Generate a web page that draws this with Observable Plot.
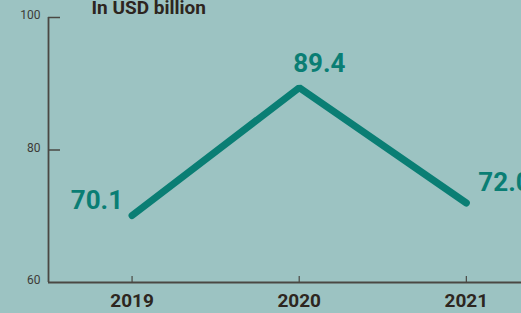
<!DOCTYPE html>
<html>
<head>
<meta charset="utf-8">
<script src="https://cdn.jsdelivr.net/npm/d3@7"></script>
<script src="https://cdn.jsdelivr.net/npm/@observablehq/plot@0.6"></script>
<style>
  html, body { margin: 0; padding: 0; background: #9cc3c2; overflow: hidden; }
  #chart { width: 521px; height: 313px; }
</style>
</head>
<body>
<div id="chart"></div>
<script>
const years = [2019, 2020, 2021];
const values = [70.1, 89.4, 72.0];
const labels = ["70.1", "89.4", "72.0"];
const yTicks = [60, 80, 100];
const xDomain = [2018.5, 2021.33];
const yDomain = [60, 100];
const title = "In USD billion";

const data = years.map((y, i) => ({year: y, value: values[i], label: labels[i]}));

const W = 521, H = 313, mT = 17, mB = 31, mL = 48, mR = 0;
const axisColor = "#4a4843";
const teal = "#0a7e74";
const font = "Roboto, 'Open Sans', sans-serif";

const labelOffsets = [
  {textAnchor: "end", dx: -9, dy: -15},
  {textAnchor: "start", dx: -6, dy: -24},
  {textAnchor: "start", dx: 12, dy: -20}
];

const chart = Plot.plot({
  width: W,
  height: H,
  marginTop: mT,
  marginBottom: mB,
  marginLeft: mL,
  marginRight: mR,
  style: {background: "#9cc3c2", fontFamily: font, overflow: "visible"},
  x: {domain: xDomain, axis: null, label: null},
  y: {domain: yDomain, axis: null, label: null},
  marks: [
    Plot.axisY({ticks: yTicks, label: null, tickSize: 0, tickPadding: 8, fontSize: 12, color: "#3d3b37", dy: -2, tickFormat: d => String(d)}),
    Plot.axisX({ticks: years, label: null, tickSize: 0, tickPadding: 11, fontSize: 19, fontWeight: "bold", color: "#2d2620", tickFormat: d => String(d)}),
    Plot.tickY(yTicks.slice(1), {y: d => d, stroke: axisColor, strokeWidth: 1.5, insetRight: W - mL - mR - 12}),
    Plot.tickX(years, {x: d => d, stroke: axisColor, strokeWidth: 1.2, insetTop: H - mT - mB - 6}),
    Plot.ruleX([xDomain[0]], {stroke: axisColor, strokeWidth: 1.8}),
    Plot.ruleY([yDomain[0]], {stroke: axisColor, strokeWidth: 1.8}),
    Plot.lineY(data, {x: "year", y: "value", stroke: teal, strokeWidth: 7, strokeLinecap: "round", strokeLinejoin: "miter"}),
    ...data.map((d, i) => Plot.text([d], {
      x: "year", y: "value", text: "label",
      textAnchor: labelOffsets[i].textAnchor, dx: labelOffsets[i].dx, dy: labelOffsets[i].dy,
      fill: teal, fontSize: 26, fontWeight: "bold"
    })),
    Plot.text([title], {frameAnchor: "top-left", text: d => d, dx: 43, dy: -4, lineAnchor: "bottom", textAnchor: "start", fontSize: 19, fontWeight: "bold", fill: "#2d2520"})
  ]
});
document.getElementById("chart").appendChild(chart);
</script>
</body>
</html>
